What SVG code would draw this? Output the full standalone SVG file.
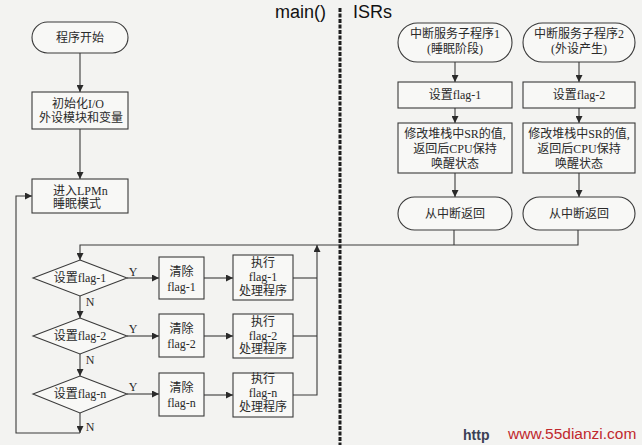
<svg xmlns="http://www.w3.org/2000/svg" width="642" height="445" viewBox="0 0 642 445">
<defs>
<marker id="ah" viewBox="0 0 10 10" refX="10" refY="5" markerWidth="8" markerHeight="7" markerUnits="userSpaceOnUse" orient="auto">
<path d="M0,0 L10,5 L0,10 Z" fill="#2a2a2a"/>
</marker>
<style>
.n{fill:#f8f8f6;stroke:#3a3a3a;stroke-width:1.1}
.c{fill:none;stroke:#3a3a3a;stroke-width:1.1}
.t{font-family:"Liberation Serif","Noto Sans CJK SC",serif;font-size:12px;fill:#2a2a2a;text-anchor:middle}
.l{text-anchor:start}
.h{font-family:"Liberation Sans",Arial,sans-serif;font-size:18px;fill:#111}
</style>
</defs>
<rect x="0" y="0" width="642" height="445" fill="#f3f3f1"/>
<text class="h" x="275" y="18">main()</text>
<text class="h" x="353" y="18">ISRs</text>
<line x1="340" y1="8" x2="340" y2="445" stroke="#1e1e1e" stroke-width="3" stroke-dasharray="4 1.5"/>

<g id="connectors">
<path class="c" d="M80,53 V92" marker-end="url(#ah)"/>
<path class="c" d="M80,129 V179" marker-end="url(#ah)"/>
<path class="c" d="M80,413 V433" marker-end="url(#ah)"/>
<path class="c" d="M80,433 H16 V196 H32" marker-end="url(#ah)"/>
<path class="c" d="M578,230 V245 H80 V260" marker-end="url(#ah)"/>
<path class="c" d="M454,230 V245"/>
<path class="c" d="M293,395 H317 V245" marker-end="url(#ah)"/>
<path class="c" d="M293,278 H317"/>
<path class="c" d="M293,336 H317"/>
<path class="c" d="M80,296 V318" marker-end="url(#ah)"/>
<path class="c" d="M80,354 V376" marker-end="url(#ah)"/>
<path class="c" d="M127,278 H159" marker-end="url(#ah)"/>
<path class="c" d="M127,336 H159" marker-end="url(#ah)"/>
<path class="c" d="M127,394 H159" marker-end="url(#ah)"/>
<path class="c" d="M204,278 H233" marker-end="url(#ah)"/>
<path class="c" d="M204,336 H233" marker-end="url(#ah)"/>
<path class="c" d="M204,395 H233" marker-end="url(#ah)"/>
<path class="c" d="M455,62 V82" marker-end="url(#ah)"/>
<path class="c" d="M455,108 V123" marker-end="url(#ah)"/>
<path class="c" d="M455,173 V197" marker-end="url(#ah)"/>
<path class="c" d="M579,62 V82" marker-end="url(#ah)"/>
<path class="c" d="M579,108 V123" marker-end="url(#ah)"/>
<path class="c" d="M579,173 V197" marker-end="url(#ah)"/>
<text class="t" x="133" y="276">Y</text>
<text class="t" x="133" y="333">Y</text>
<text class="t" x="133" y="391">Y</text>
<text class="t" x="90" y="306">N</text>
<text class="t" x="90" y="364">N</text>
<text class="t" x="90" y="431">N</text>
</g>

<g id="start">
<rect class="n" x="32" y="22" width="96" height="31" rx="15.5"/>
<text class="t" x="80" y="42">程序开始</text>
</g>
<g id="init">
<rect class="n" x="32" y="92" width="96" height="37"/>
<text class="t" x="78" y="108">初始化I/O</text>
<text class="t" x="81" y="122">外设模块和变量</text>
</g>
<g id="lpm">
<rect class="n" x="32" y="179" width="96" height="34"/>
<text class="t l" x="53" y="195">进入LPMn</text>
<text class="t l" x="53" y="208">睡眠模式</text>
</g>

<g id="dec1">
<polygon class="n" points="80,260 127,278 80,296 33,278"/>
<text class="t" x="80" y="282">设置flag-1</text>
</g>
<g id="dec2">
<polygon class="n" points="80,318 127,336 80,354 33,336"/>
<text class="t" x="80" y="340">设置flag-2</text>
</g>
<g id="decn">
<polygon class="n" points="80,376 127,394 80,413 33,394"/>
<text class="t" x="80" y="398">设置flag-n</text>
</g>

<g id="clr1">
<rect class="n" x="159" y="257" width="45" height="42"/>
<text class="t" x="181.5" y="276">清除</text>
<text class="t" x="181.5" y="291">flag-1</text>
</g>
<g id="clr2">
<rect class="n" x="159" y="314" width="45" height="43"/>
<text class="t" x="181.5" y="333">清除</text>
<text class="t" x="181.5" y="348">flag-2</text>
</g>
<g id="clrn">
<rect class="n" x="159" y="373" width="45" height="43"/>
<text class="t" x="181.5" y="392">清除</text>
<text class="t" x="181.5" y="407">flag-n</text>
</g>

<g id="exe1">
<rect class="n" x="233" y="255" width="60" height="45"/>
<text class="t" x="263" y="267">执行</text>
<text class="t" x="263" y="281">flag-1</text>
<text class="t" x="263" y="295">处理程序</text>
</g>
<g id="exe2">
<rect class="n" x="233" y="314" width="60" height="44"/>
<text class="t" x="263" y="326">执行</text>
<text class="t" x="263" y="340">flag-2</text>
<text class="t" x="263" y="353">处理程序</text>
</g>
<g id="exen">
<rect class="n" x="233" y="373" width="60" height="44"/>
<text class="t" x="263" y="383">执行</text>
<text class="t" x="263" y="397">flag-n</text>
<text class="t" x="263" y="411">处理程序</text>
</g>

<g id="isr1">
<rect class="n" x="398" y="23" width="114" height="39" rx="19.5"/>
<text class="t" x="455" y="38">中断服务子程序1</text>
<text class="t" x="455" y="53">(睡眠阶段)</text>
</g>
<g id="isr2">
<rect class="n" x="523" y="23" width="112" height="39" rx="19.5"/>
<text class="t" x="579" y="38">中断服务子程序2</text>
<text class="t" x="579" y="53">(外设产生)</text>
</g>
<g id="set1">
<rect class="n" x="398" y="82" width="114" height="26"/>
<text class="t" x="455" y="99">设置flag-1</text>
</g>
<g id="set2">
<rect class="n" x="523" y="82" width="112" height="26"/>
<text class="t" x="579" y="99">设置flag-2</text>
</g>
<g id="mod1">
<rect class="n" x="398" y="123" width="114" height="50"/>
<text class="t" x="455" y="138">修改堆栈中SR的值,</text>
<text class="t" x="455" y="153">返回后CPU保持</text>
<text class="t" x="455" y="168">唤醒状态</text>
</g>
<g id="mod2">
<rect class="n" x="523" y="123" width="112" height="50"/>
<text class="t" x="579" y="138">修改堆栈中SR的值,</text>
<text class="t" x="579" y="153">返回后CPU保持</text>
<text class="t" x="579" y="168">唤醒状态</text>
</g>
<g id="ret1">
<rect class="n" x="398" y="197" width="114" height="33" rx="16.5"/>
<text class="t" x="455" y="218">从中断返回</text>
</g>
<g id="ret2">
<rect class="n" x="523" y="197" width="112" height="33" rx="16.5"/>
<text class="t" x="579" y="218">从中断返回</text>
</g>

<text x="463" y="440" font-family="Liberation Sans, sans-serif" font-size="14" font-weight="bold" fill="#3a3f55">http</text>
<text x="508" y="439" font-family="Liberation Sans, sans-serif" font-size="15.5" fill="#c0282d">www.55dianzi.com</text>
</svg>
